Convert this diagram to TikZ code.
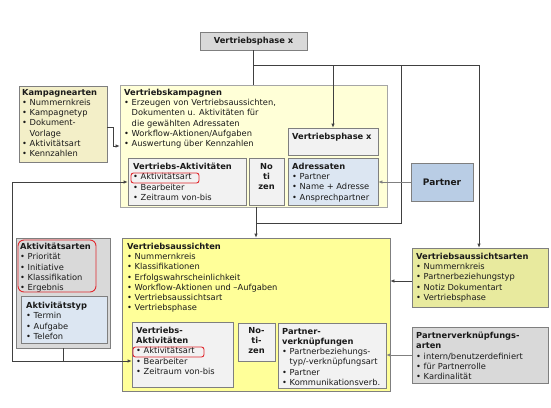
\documentclass[tikz,border=0pt]{standalone}
\usepackage{fontspec}
\setmainfont{DejaVu Sans}
\usetikzlibrary{fit,arrows.meta}
\definecolor{bordergray}{HTML}{7F7F7F}
\definecolor{lightborder}{HTML}{A6A6A6}
\definecolor{linecol}{HTML}{404040}
\definecolor{linegray}{HTML}{808080}
\definecolor{txtcol}{HTML}{1A1A1A}
\definecolor{grayA}{HTML}{D9D9D9}
\definecolor{inner}{HTML}{F2F2F2}
\definecolor{lblue}{HTML}{DCE6F2}
\definecolor{pblue}{HTML}{B9CDE5}
\definecolor{paleyel}{HTML}{FFFFD7}
\definecolor{khaki}{HTML}{F3EFC8}
\definecolor{yel}{HTML}{FFFF99}
\definecolor{olive}{HTML}{E8EA9E}
\definecolor{redcol}{HTML}{E0282E}
\newcommand{\bpt}{•\ }
\newcommand{\bind}{\hphantom{•\ }}
\begin{document}
\begin{tikzpicture}[x=1pt,y=-1pt,
  box/.style={draw=bordergray, line width=0.7pt, inner sep=0pt},
  txt/.style={anchor=north west, inner sep=0pt, align=left, font=\fontsize{8.3pt}{10.2pt}\selectfont, text=txtcol},
  ctxt/.style={inner sep=0pt, align=center, font=\bfseries\fontsize{8.3pt}{10.2pt}\selectfont, text=txtcol},
  ln/.style={draw=linecol, line width=0.7pt},
  arr/.style={draw=linecol, line width=0.7pt, -{Latex[length=4pt,width=3.5pt]}},
  redbox/.style={draw=redcol, line width=0.9pt, rounded corners=2.5pt}]
\useasboundingbox[fill=white] (0,0) rectangle (551,407);

% top phase box
\node[box, fill=grayA, fit={(200,32)(307,50)}] (vp) {};
\node[ctxt] (vpT) at (vp.center) {Vertriebsphase x};

% Kampagnearten
\node[box, fill=khaki, fit={(19,86)(107,162)}] (ka) {};
\node[txt] (kaT) at (22,89) {\textbf{Kampagnearten}\\ \bpt Nummernkreis\\ \bpt Kampagnetyp\\ \bpt Dokument-\\ \bind Vorlage\\ \bpt Aktivitätsart\\ \bpt Kennzahlen};

% Vertriebskampagnen
\node[box, draw=lightborder, fill=paleyel, fit={(120,85)(387,207)}] (vk) {};
\node[txt] (vkT) at (124,89) {\textbf{Vertriebskampagnen}\\ \bpt Erzeugen von Vertriebsaussichten,\\ \bind Dokumenten u. Aktivitäten für\\ \bind die gewählten Adressaten\\ \bpt Workflow-Aktionen/Aufgaben\\ \bpt Auswertung über Kennzahlen};

\node[box, fill=inner, fit={(288,128)(378,155)}] (vpi) {};
\node[txt, font=\bfseries\fontsize{8.3pt}{10.2pt}\selectfont] (vpiT) at (292,133) {Vertriebsphase x};

\node[box, fill=inner, fit={(128,158)(246,205)}] (vau) {};
\node[txt] (vauT) at (133,163) {\textbf{Vertriebs-Aktivitäten}\\ \bpt Aktivitätsart\\ \bpt Bearbeiter\\ \bpt Zeitraum von-bis};
\node[redbox, fit={(131,173)(199,183)}, inner sep=0pt] (rbu) {};

\node[box, fill=inner, fit={(249,158)(284,205)}] (nou) {};
\node[ctxt, anchor=north] (nouT) at (266.5,163) {No\\ti\\zen};

\node[box, fill=lblue, fit={(288,158)(378,205)}] (adr) {};
\node[txt] (adrT) at (292,163) {\textbf{Adressaten}\\ \bpt Partner\\ \bpt Name + Adresse\\ \bpt Ansprechpartner};

% Partner
\node[box, fill=pblue, fit={(411,163)(473,201)}] (par) {};
\node[ctxt, font=\bfseries\fontsize{9pt}{11pt}\selectfont] (parT) at (par.center) {Partner};

% Aktivitaetsarten
\node[box, fill=grayA, fit={(16,238)(110,348)}] (aa) {};
\node[txt] (aaT) at (20,243) {\textbf{Aktivitätsarten}\\ \bpt Priorität\\ \bpt Initiative\\ \bpt Klassifikation\\ \bpt Ergebnis};
\node[redbox, rounded corners=6pt, fit={(18,240)(96,292)}, inner sep=0pt] (rba) {};
\node[box, fill=lblue, fit={(21,296)(107,343)}] (at) {};
\node[txt] (atT) at (26,302) {\textbf{Aktivitätstyp}\\ \bpt Termin\\ \bpt Aufgabe\\ \bpt Telefon};

% Vertriebsaussichten
\node[box, fill=yel, fit={(122,238)(390,391)}] (va) {};
\node[txt] (vaT) at (127,243) {\textbf{Vertriebsaussichten}\\ \bpt Nummernkreis\\ \bpt Klassifikationen\\ \bpt Erfolgswahrscheinlichkeit\\ \bpt Workflow-Aktionen und –Aufgaben\\ \bpt Vertriebsaussichtsart\\ \bpt Vertriebsphase};

\node[box, fill=inner, fit={(132,322)(233,387)}] (val) {};
\node[txt] (valT) at (136,327) {\textbf{Vertriebs-}\\ \textbf{Aktivitäten}\\ \bpt Aktivitätsart\\ \bpt Bearbeiter\\ \bpt Zeitraum von-bis};
\node[redbox, fit={(133,347)(204,357)}, inner sep=0pt] (rbl) {};

\node[box, fill=inner, fit={(238,323)(275,361)}] (nol) {};
\node[ctxt, anchor=north] (nolT) at (256.5,327) {No-\\ti-\\zen};

\node[box, fill=inner, fit={(278,323)(386,388)}] (pv) {};
\node[txt] (pvT) at (282,328) {\textbf{Partner-}\\ \textbf{verknüpfungen}\\ \bpt Partnerbeziehungs-\\ \bind typ/-verknüpfungsart\\ \bpt Partner\\ \bpt Kommunikationsverb.};

% right boxes
\node[box, fill=olive, fit={(412,248)(548,307)}] (vaa) {};
\node[txt] (vaaT) at (416,253) {\textbf{Vertriebsaussichtsarten}\\ \bpt Nummernkreis\\ \bpt Partnerbeziehungstyp\\ \bpt Notiz Dokumentart\\ \bpt Vertriebsphase};

\node[box, fill=grayA, fit={(412,327)(548,383)}] (pva) {};
\node[txt] (pvaT) at (416,332) {\textbf{Partnerverknüpfungs-}\\ \textbf{arten}\\ \bpt intern/benutzerdefiniert\\ \bpt für Partnerrolle\\ \bpt Kardinalität};

% connectors
\coordinate (j1) at (vp.south |- 0,65);
\draw[ln] (vp.south) -- (vp.south |- vk.north);
\draw[ln] (j1) -- (479,65);
\draw[arr] (j1) -| (vpi.north);
\draw[arr] (j1) -| (479,65) -- (479,0 |- vaa.north);
\coordinate (j2) at (401,223);
\draw[ln] (j1) -| (j2) -- (va.north |- j2);
\draw[arr] (vk.south -| va.north) -- (va.north);

\coordinate (k1) at (113,127);
\draw[arr] (ka.east |- k1) -- (k1) |- (vk.west |- 0,146);

\draw[arr, draw=linegray] (par.west |- 0,182) -- (adr.east |- 0,182);
\draw[arr] (vaa.west |- 0,281) -- (va.east |- 0,281);
\draw[arr, draw=linegray] (pva.west |- 0,355) -- (pv.east |- 0,355);

\coordinate (c1) at (12,361);
\draw[arr] (aa.south) |- (val.west |- c1);
\draw[arr] (aa.south |- c1) -- (c1) |- (vau.west |- 0,182);
\end{tikzpicture}
\end{document}
